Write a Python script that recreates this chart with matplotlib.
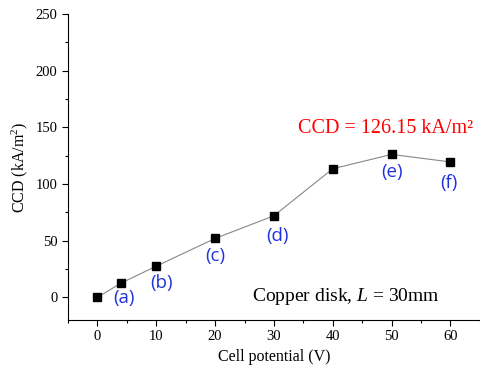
import matplotlib.pyplot as plt
from matplotlib.ticker import MultipleLocator

# data
potential = [0, 4, 10, 20, 30, 40, 50, 60]
ccd = [0, 12.5, 27.5, 52, 72, 113.5, 126.15, 119.5]

label_x = [4, 10, 20, 30, 50, 60]
label_y = [12.5, 27.5, 52, 72, 126.15, 119.5]
label_text = ['(a)', '(b)', '(c)', '(d)', '(e)', '(f)']
label_offset = [(3, -15), (5, -17), (0, -18), (4, -20), (0, -18), (-2, -21)]

serif = 'Liberation Serif'
plt.rcParams['mathtext.fontset'] = 'custom'
plt.rcParams['mathtext.rm'] = serif
plt.rcParams['mathtext.it'] = serif + ':italic'

fig = plt.figure(figsize=(4.8, 3.71), dpi=100)
ax = fig.add_axes([0.1417, 0.1375, 0.858, 0.8245])

ax.plot(potential, ccd, color='#888888', lw=0.8, marker='s', ms=5.2,
        mfc='black', mec='black', zorder=3)

for x, y, t, off in zip(label_x, label_y, label_text, label_offset):
    ax.annotate(t, (x, y), xytext=off, textcoords='offset pixels',
                ha='center', va='center', color='#2233dd',
                fontsize=13.5, family='Open Sans')

ax.text(49, 149, 'CCD = 126.15 kA/m²', color='red', fontsize=14.5,
        family=serif, ha='center', va='center')
ax.text(42.2, 1, 'Copper disk, $L$ = 30mm', fontsize=14,
        family=serif, ha='center', va='center')

ax.set_xlim(-5, 65)
ax.set_ylim(-20, 250)
ax.xaxis.set_major_locator(MultipleLocator(10))
ax.xaxis.set_minor_locator(MultipleLocator(5))
ax.yaxis.set_major_locator(MultipleLocator(50))
ax.yaxis.set_minor_locator(MultipleLocator(25))
ax.tick_params(which='major', length=4, width=0.8, labelsize=10.5)
ax.tick_params(which='minor', length=2.5, width=0.8)
for lbl in ax.get_xticklabels() + ax.get_yticklabels():
    lbl.set_family(serif)

ax.spines['top'].set_visible(False)
ax.spines['right'].set_visible(False)

ax.set_xlabel('Cell potential (V)', family=serif, fontsize=11.5)
ax.set_ylabel('CCD (kA/m$^2$)', family=serif, fontsize=11.5)

fig.savefig('out.png', dpi=100)
